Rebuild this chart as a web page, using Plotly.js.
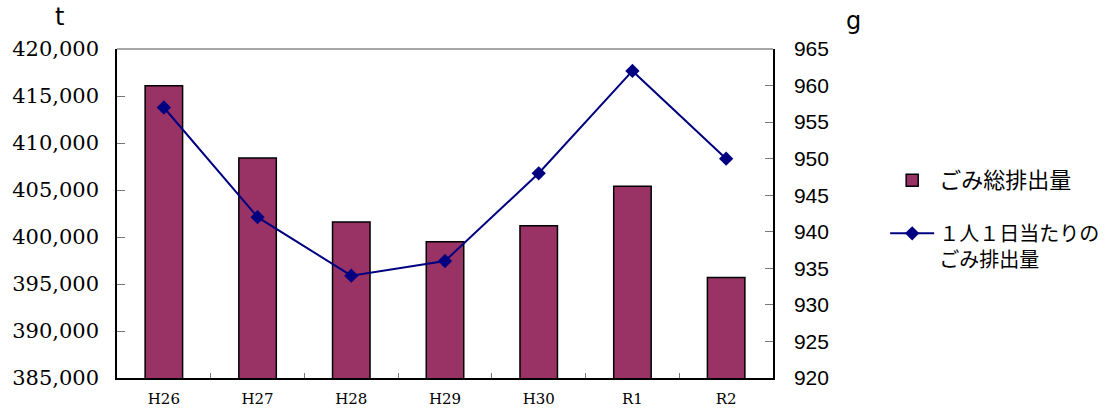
<!DOCTYPE html>
<html>
<head>
<meta charset="utf-8">
<script src="https://cdn.plot.ly/plotly-3.0.1.min.js"></script>
<style>html,body{margin:0;padding:0;background:#fff;}#chart{width:1109px;height:410px;}</style>
</head>
<body>
<div id="chart"></div>
<script>
const categories = ["H26", "H27", "H28", "H29", "H30", "R1", "R2"];
const totalWaste = [416100, 408400, 401600, 399500, 401200, 405400, 395700];
const perCapitaDaily = [957, 942, 934, 936, 948, 962, 950];
const leftTicks = [385000, 390000, 395000, 400000, 405000, 410000, 415000, 420000];
const rightTicks = [920, 925, 930, 935, 940, 945, 950, 955, 960, 965];
const barName = "<span style='font-size:22px'>ごみ総排出量</span>";
const lineName = "１人１日当たりの<br>ごみ排出量";

const traces = [
  {
    type: "bar", x: categories, y: totalWaste, name: barName, yaxis: "y",
    legendgroup: "a",
    marker: {color: "#993366", line: {color: "#000000", width: 1.5}},
    hoverinfo: "x+y"
  },
  {
    type: "scatter", mode: "lines+markers", x: categories, y: perCapitaDaily, name: lineName, yaxis: "y2",
    legendgroup: "b",
    line: {color: "#000080", width: 2},
    marker: {symbol: "diamond", size: 11, color: "#000080"},
    hoverinfo: "x+y"
  }
];

const layout = {
  width: 1109, height: 410,
  margin: {l: 117, r: 336, t: 49, b: 32, autoexpand: false},
  paper_bgcolor: "#ffffff", plot_bgcolor: "#ffffff",
  showlegend: true,
  bargap: 0.6,
  legend: {
    x: 1.171, xanchor: "left", y: 0.66, yanchor: "top",
    font: {family: "Noto Sans CJK JP", size: 20, color: "#000"},
    itemwidth: 44,
    tracegroupgap: 24, valign: "top", bgcolor: "rgba(0,0,0,0)"
  },
  xaxis: {
    type: "category", range: [-0.5, 6.5],
    showline: true, linecolor: "#000", linewidth: 1.5,
    ticks: "inside", tickson: "boundaries", ticklen: 5, tickcolor: "#777",
    showgrid: false, zeroline: false,
    tickfont: {family: "DejaVu Serif", size: 15, color: "#000"},
    ticklabelstandoff: 6,
    fixedrange: true
  },
  yaxis: {
    range: [385000, 420000], tickvals: leftTicks, tickformat: ",d",
    showline: true, linecolor: "#000", linewidth: 1.5,
    ticks: "inside", ticklen: 8, tickcolor: "#777",
    showgrid: false, zeroline: false,
    tickfont: {family: "DejaVu Serif", size: 21, color: "#000"},
    ticklabelstandoff: 12
  },
  yaxis2: {
    range: [920, 965], tickvals: rightTicks, overlaying: "y", side: "right",
    showline: true, linecolor: "#000", linewidth: 1.5,
    ticks: "inside", ticklen: 8, tickcolor: "#777",
    showgrid: false, zeroline: false,
    tickfont: {family: "Liberation Sans", size: 21, color: "#000"},
    ticklabelstandoff: 15
  },
  shapes: [
    {type: "line", xref: "paper", yref: "paper", x0: 0, x1: 1, y0: 1, y1: 1, line: {color: "#888", width: 1.5}}
  ],
  annotations: [
    {text: "t", xref: "paper", yref: "paper", x: -0.087, y: 1.0, yshift: 32, showarrow: false,
     xanchor: "center", yanchor: "middle", font: {family: "DejaVu Sans", size: 24, color: "#000"}},
    {text: "g", xref: "paper", yref: "paper", x: 1.123, y: 1.0, yshift: 28, showarrow: false,
     xanchor: "center", yanchor: "middle", font: {family: "DejaVu Sans", size: 24, color: "#000"}}
  ]
};

Plotly.newPlot("chart", traces, layout, {displayModeBar: false, responsive: false});
</script>
</body>
</html>
